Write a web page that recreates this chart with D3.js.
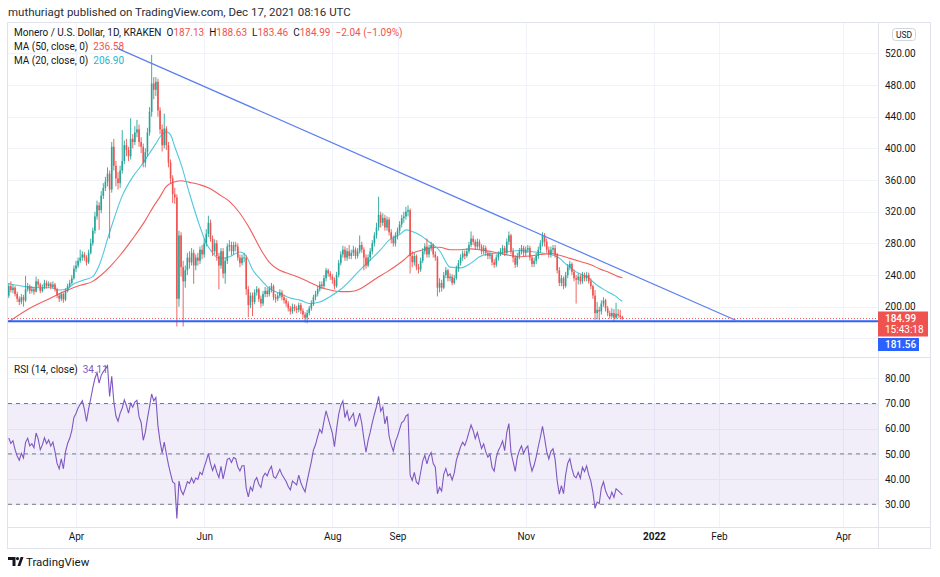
<!DOCTYPE html>
<html>
<head>
<meta charset="utf-8">
<script src="https://cdn.jsdelivr.net/npm/d3@7"></script>
<style>
  body { margin: 0; background: #fff; }
  text { font-family: Roboto, "Open Sans", sans-serif; }
</style>
</head>
<body>
<svg id="chart" width="940" height="577"></svg>
<script>
// ---- data ----
const startDay = "2021-02-28";   // first daily candle
const firstOpen = 214;
const close = [
  226,221,224,216,210,206,212,208,222,226,
  220,222,219,232,228,220,224,230,226,229,
  225,228,222,214,210,216,209,220,226,230,
  236,248,252,258,262,266,262,256,268,280,
  296,314,328,322,340,350,358,368,348,402,
  378,362,356,372,384,404,398,390,412,408,
  420,424,408,402,382,395,420,446,482,474,
  484,448,424,404,425,404,382,362,342,338,
  210,290,250,232,246,262,256,268,252,262,
  258,272,266,280,292,306,286,270,280,264,
  252,270,242,258,276,278,270,278,276,262,
  255,262,262,222,202,214,206,218,222,210,
  204,216,220,216,222,226,212,210,214,218,
  212,208,204,198,194,200,198,196,202,195,
  190,186,192,198,204,212,216,222,228,226,
  236,246,242,238,234,226,240,255,266,272,
  262,270,264,268,272,264,270,278,272,262,
  252,262,270,280,290,300,316,306,312,300,
  310,294,286,280,290,296,304,312,314,320,
  322,264,256,264,250,247,258,270,276,266,
  274,278,266,262,224,230,224,240,246,236,
  238,230,236,248,255,262,267,264,270,278,
  286,282,276,282,276,270,274,268,264,266,
  256,253,262,267,270,274,268,282,290,270,
  262,253,264,270,274,268,272,274,262,254,
  258,264,272,280,290,282,272,266,272,274,
  266,246,230,236,226,240,250,254,244,236,
  234,238,232,240,236,240,232,226,214,192,
  196,194,204,208,198,192,188,192,186,191,
  189,187.13,184.99
];
const high = [
  230,232,228,226,219,213,216,215,239,230,
  228,226,225,238,235,230,228,234,233,232,
  231,232,230,224,217,219,218,223,229,234,
  240,252,258,262,272,270,269,265,272,286,
  300,320,334,332,346,356,364,376,372,408,
  412,384,370,378,423,410,412,402,438,418,
  428,436,430,414,406,400,426,452,518,490,
  490,488,452,430,444,428,408,386,366,350,
  342,296,294,258,252,268,270,274,272,266,
  268,276,278,286,298,315,310,290,285,284,
  268,274,274,262,280,284,282,282,282,280,
  266,266,268,265,226,218,218,222,226,224,
  214,220,225,224,226,230,228,216,218,222,
  221,215,211,207,201,204,203,201,205,205,
  198,193,196,201,208,215,220,226,232,232,
  240,249,248,245,241,237,244,259,270,277,
  276,274,278,272,277,275,274,290,282,275,
  266,266,274,284,294,306,339,320,318,316,
  314,313,298,290,294,300,308,316,320,326,
  328,324,270,268,266,254,262,274,280,286,
  278,282,280,270,264,236,234,244,250,248,
  242,241,240,252,259,266,271,271,274,282,
  295,290,285,286,285,279,278,277,271,270,
  268,260,266,270,274,278,277,286,295,292,
  274,265,268,274,278,277,276,278,277,265,
  262,268,276,284,294,293,286,276,276,278,
  278,268,250,240,238,244,254,258,256,247,
  240,242,241,244,243,244,243,236,228,221,
  206,200,208,212,210,201,195,198,197,205,
  197,196,188.63
];
const low = [
  211,218,217,213,206,202,203,200,206,219,
  216,217,215,218,224,217,218,222,223,224,
  222,223,219,211,206,207,205,207,218,224,
  228,234,244,249,255,258,258,252,254,266,
  277,292,310,297,318,336,346,352,286,344,
  372,352,348,350,368,380,390,384,386,400,
  404,414,402,394,376,376,390,416,440,462,
  466,440,418,396,400,398,376,356,331,330,
  175,200,238,175,224,240,248,252,229,246,
  252,254,260,262,276,288,282,264,266,258,
  222,248,236,229,254,270,265,266,270,258,
  250,252,256,215,187,198,188,203,214,206,
  199,201,212,212,213,218,208,205,207,211,
  208,204,200,194,190,191,194,192,193,191,
  186,180,179,189,195,201,208,213,219,222,
  223,232,238,234,229,222,224,237,252,262,
  258,258,260,260,264,260,261,267,268,246,
  248,250,258,266,276,286,296,300,302,296,
  296,290,280,276,276,285,292,300,306,310,
  314,242,250,252,246,242,244,255,266,262,
  262,270,262,258,213,218,219,222,236,232,
  232,227,228,234,244,252,258,260,262,267,
  275,278,272,273,272,266,266,264,260,260,
  252,249,250,258,264,266,264,265,278,266,
  256,249,250,260,266,264,264,268,258,250,
  250,254,260,268,276,276,268,262,262,268,
  262,242,226,226,222,224,236,246,240,232,
  204,228,228,229,232,232,229,222,210,183,
  184,183,190,200,194,188,185,186,181,184,
  186,184,183.46
];
// moving averages as drawn: [day index, value]
const ma50 = [[0,181],[10,198],[20,211],[28,221],[34,227],[40,232],[44,240],[48,250],[53,265],[59,286],
  [65,309],[69,327],[72,339],[75,352],[78,357],[82,359],[86,357],[91,354],[96,349],[100,342],
  [105,333],[110,318],[115,297],[120,272],[124,256],[129,246],[134,241],[139,236],[143,231],[148,225],
  [153,221],[158,219],[162,219],[166,221],[170,227],[175,236],[180,244],[185,253],[188,259],[191,266],
  [196,271],[200,274],[205,275],[210,272],[215,272],[220,273],[224,272],[229,270],[234,267],[238,265],
  [243,263],[248,264],[253,266],[258,267],[262,265],[267,261],[272,257],[277,253],[281,248],[286,243],
  [290,238],[292,236.58]];
const ma20 = [[0,229],[4,227],[9,225],[13,224],[20,224],[24,221],[28,223],[31,229],[36,234],[40,238],
  [43,252],[48,294],[54,340],[59,364],[63,378],[67,394],[70,406],[73,418],[75,421],[77,417],
  [79,402],[82,380],[86,343],[91,301],[94,280],[97,268],[100,261],[105,263],[110,269],[113,264],
  [116,247],[120,234],[124,223],[129,217],[134,211],[139,208],[143,204],[148,206],[153,213],[158,222],
  [162,232],[167,246],[172,259],[177,272],[181,284],[186,291],[189,297],[192,295],[196,290],[200,282],
  [205,271],[210,250],[215,249],[220,255],[224,263],[229,267],[234,268],[239,270],[243,271],[248,270],
  [253,268],[258,266],[261,263],[266,252],[270,244],[275,238],[280,227],[285,219],[289,213],[291,208.5],
  [292,206.9]];
const rsiSeed = [5.0, 4.6];          // avg gain / avg loss before the first bar
const supportLevel = 181.56;
const trendLine = [[52, 526], [347, 181.56]];
const priceGrid = [160,200,240,280,320,360,400,440,480,520];
const priceTicks = [200,240,280,320,360,400,440,480,520];
const rsiTicks = [30,40,50,60,70,80];
const rsiBands = [70,50,30];
const timeTicks = [["2021-04-01","Apr"],["2021-06-01","Jun"],["2021-08-01","Aug"],["2021-09-01","Sep"],
  ["2021-11-01","Nov"],["2022-01-01","2022"],["2022-02-01","Feb"],["2022-04-01","Apr"]];

// ---- layout ----
const svg = d3.select("#chart");
const left = 8, plotRight = 878, axisRight = 931;
const mainTop = 22, mainBottom = 357, rsiBottom = 527, timeBottom = 548;
const up = "#26a69a", down = "#ef5350", ink = "#131722", gridC = "#f0f3fa", border = "#e0e3eb";

const parse = d3.utcParse("%Y-%m-%d");
const day0 = parse(startDay);
const dayDate = i => d3.utcDay.offset(day0, Math.floor(i)).getTime() + (i % 1) * 864e5;

const x = d3.scaleUtc().domain([parse("2021-04-01"), parse("2022-04-01")]).range([76, 843]);
const y = d3.scaleLinear().domain([200, 480]).range([306.7, 85]);
const yr = d3.scaleLinear().domain([30, 80]).range([504.3, 378.3]);

// header
svg.append("text").attr("x", 8).attr("y", 16).attr("font-size", 11.5).attr("fill", "#2a2e39")
  .text("muthuriagt published on TradingView.com, Dec 17, 2021 08:16 UTC");

// frames
const frame = svg.append("g").attr("fill", "none").attr("stroke", border);
frame.append("rect").attr("x", left - 0.5).attr("y", mainTop + 0.5).attr("width", axisRight - left).attr("height", timeBottom - mainTop);
frame.append("line").attr("x1", plotRight + 0.5).attr("x2", plotRight + 0.5).attr("y1", mainTop).attr("y2", timeBottom);
frame.append("line").attr("x1", left).attr("x2", axisRight).attr("y1", mainBottom + 0.5).attr("y2", mainBottom + 0.5);
frame.append("line").attr("x1", left).attr("x2", axisRight).attr("y1", rsiBottom + 0.5).attr("y2", rsiBottom + 0.5);

svg.append("clipPath").attr("id", "clipMain").append("rect")
  .attr("x", left).attr("y", mainTop + 1).attr("width", plotRight - left).attr("height", mainBottom - mainTop - 1);
svg.append("clipPath").attr("id", "clipRsi").append("rect")
  .attr("x", left).attr("y", mainBottom + 1).attr("width", plotRight - left).attr("height", rsiBottom - mainBottom - 1);

// grids
const grid = svg.append("g").attr("stroke", gridC).attr("stroke-width", 1);
timeTicks.forEach(([d]) => {
  const gx = Math.round(x(parse(d))) + 0.5;
  grid.append("line").attr("x1", gx).attr("x2", gx).attr("y1", mainTop + 1).attr("y2", mainBottom);
  grid.append("line").attr("x1", gx).attr("x2", gx).attr("y1", mainBottom + 1).attr("y2", rsiBottom);
});
priceGrid.forEach(p => {
  const gy = Math.round(y(p)) + 0.5;
  grid.append("line").attr("x1", left).attr("x2", plotRight).attr("y1", gy).attr("y2", gy);
});
rsiTicks.forEach(r => {
  const gy = Math.round(yr(r)) + 0.5;
  grid.append("line").attr("x1", left).attr("x2", plotRight).attr("y1", gy).attr("y2", gy);
});

// ---- main pane ----
const main = svg.append("g").attr("clip-path", "url(#clipMain)");

// last price dotted line
main.append("line").attr("x1", left).attr("x2", plotRight)
  .attr("y1", y(close[close.length - 1])).attr("y2", y(close[close.length - 1]))
  .attr("stroke", down).attr("stroke-dasharray", "1,2").attr("stroke-width", 1);

const line = d3.line().x(d => x(dayDate(d[0]))).y(d => y(d[1])).curve(d3.curveMonotoneX);
main.append("path").datum(ma50).attr("d", line).attr("fill", "none").attr("stroke", "#f0605d").attr("stroke-width", 1.1);
main.append("path").datum(ma20).attr("d", line).attr("fill", "none").attr("stroke", "#4fc9dd").attr("stroke-width", 1.1);

// candles
const bars = close.map((c, i) => ({ i, o: i ? close[i - 1] : firstOpen, h: high[i], l: low[i], c }));
const cg = main.append("g");
cg.selectAll(".wick").data(bars).enter().append("line")
  .attr("x1", d => x(dayDate(d.i))).attr("x2", d => x(dayDate(d.i)))
  .attr("y1", d => y(d.h)).attr("y2", d => y(d.l))
  .attr("stroke", d => d.c >= d.o ? up : down).attr("stroke-width", 0.9);
cg.selectAll(".body").data(bars).enter().append("rect")
  .attr("x", d => x(dayDate(d.i)) - 0.8).attr("width", 1.6)
  .attr("y", d => y(Math.max(d.o, d.c)))
  .attr("height", d => Math.max(0.8, Math.abs(y(d.o) - y(d.c))))
  .attr("fill", d => d.c >= d.o ? up : down);

// support and trend lines
main.append("line").attr("x1", left).attr("x2", plotRight)
  .attr("y1", y(supportLevel)).attr("y2", y(supportLevel))
  .attr("stroke", "#2962ff").attr("stroke-width", 2);
main.append("line")
  .attr("x1", x(dayDate(trendLine[0][0]))).attr("y1", y(trendLine[0][1]))
  .attr("x2", x(dayDate(trendLine[1][0]))).attr("y2", y(trendLine[1][1]))
  .attr("stroke", "#5b7ff0").attr("stroke-width", 1.2);

// ---- RSI pane ----
const rsi = [];
let ag = rsiSeed[0], al = rsiSeed[1], prev = firstOpen;
close.forEach(c => {
  const ch = c - prev; prev = c;
  ag = (ag * 13 + Math.max(ch, 0)) / 14;
  al = (al * 13 + Math.max(-ch, 0)) / 14;
  rsi.push(100 - 100 / (1 + ag / al));
});
const rp = svg.append("g").attr("clip-path", "url(#clipRsi)");
rp.append("rect").attr("x", left).attr("width", plotRight - left)
  .attr("y", yr(70)).attr("height", yr(30) - yr(70)).attr("fill", "#7e57c2").attr("fill-opacity", 0.1);
rsiBands.forEach(b => {
  rp.append("line").attr("x1", left).attr("x2", plotRight).attr("y1", yr(b)).attr("y2", yr(b))
    .attr("stroke", "#787b86").attr("stroke-dasharray", "4,4").attr("stroke-width", 1);
});
rp.append("path").datum(rsi)
  .attr("d", d3.line().x((d, i) => x(dayDate(i))).y(d => yr(d)))
  .attr("fill", "none").attr("stroke", "#7e57c2").attr("stroke-width", 1.1);

// ---- axes ----
const pAxis = svg.append("g").attr("transform", `translate(${plotRight},0)`)
  .call(d3.axisRight(y).tickValues(priceTicks).tickFormat(d3.format(".2f")).tickSize(0).tickPadding(7));
const rAxis = svg.append("g").attr("transform", `translate(${plotRight},0)`)
  .call(d3.axisRight(yr).tickValues([80,70,60,50,40,30]).tickFormat(d3.format(".2f")).tickSize(0).tickPadding(7));
const tLabel = new Map(timeTicks.map(([d, t]) => [parse(d).getTime(), t]));
const tAxis = svg.append("g").attr("transform", `translate(0,${rsiBottom})`)
  .call(d3.axisBottom(x).tickValues(timeTicks.map(d => parse(d[0]))).tickFormat(d => tLabel.get(d.getTime())).tickSize(0).tickPadding(6));
[pAxis, rAxis, tAxis].forEach(a => {
  a.select(".domain").remove();
  a.selectAll("text").attr("fill", ink).attr("font-size", 10).attr("font-family", "Roboto, sans-serif");
});
tAxis.selectAll("text").filter(d => tLabel.get(d.getTime()) === "2022").attr("font-weight", "bold");

// USD badge
svg.append("rect").attr("x", 892.5).attr("y", 28.5).attr("width", 23).attr("height", 12).attr("rx", 3)
  .attr("fill", "#fff").attr("stroke", "#d1d4dc");
svg.append("text").attr("x", 904).attr("y", 37.5).attr("text-anchor", "middle").attr("font-size", 8.5).attr("fill", ink).text("USD");

// price labels
svg.append("rect").attr("x", 878).attr("y", 311.5).attr("width", 50).attr("height", 25).attr("fill", down);
svg.append("text").attr("x", 885).attr("y", 322).attr("font-size", 10).attr("fill", "#fff").attr("font-weight", 500).text("184.99");
svg.append("text").attr("x", 885).attr("y", 333).attr("font-size", 10).attr("fill", "#fff").text("15:43:18");
svg.append("rect").attr("x", 878).attr("y", 338).attr("width", 41).attr("height", 13).attr("fill", "#2962ff");
svg.append("text").attr("x", 885).attr("y", 348).attr("font-size", 10).attr("fill", "#fff").attr("font-weight", 500).text("181.56");

// ---- legends ----
function legend(yPos, parts) {
  const t = svg.append("text").attr("x", 14).attr("y", yPos).attr("font-size", 10).attr("fill", ink);
  parts.forEach(([s, c, dx]) => t.append("tspan").attr("fill", c).attr("dx", dx || 0).text(s));
}
legend(36, [["Monero / U.S. Dollar, 1D, KRAKEN", ink], ["O", ink, 5], ["187.13", down], ["H", ink, 5], ["188.63", down],
  ["L", ink, 5], ["183.46", down], ["C", ink, 5], ["184.99", down], ["\u22122.04 (\u22121.09%)", down, 5]]);
legend(50, [["MA (50, close, 0)", ink], ["236.58", down, 5]]);
legend(64, [["MA (20, close, 0)", ink], ["206.90", "#26b5d0", 5]]);
legend(373, [["RSI (14, close)", ink], ["34.11", "#7e57c2", 5]]);

// TradingView mark
const logo = svg.append("g").attr("fill", ink);
logo.append("path").attr("d", "M8,557 h7.5 v9 h-3 v-6 h-4.5 z");
logo.append("circle").attr("cx", 17.5).attr("cy", 558.6).attr("r", 1.6);
logo.append("path").attr("d", "M17.5,566 l3.2,-9 h2.8 l-3.2,9 z");
svg.append("text").attr("x", 26).attr("y", 566).attr("font-size", 11.5).attr("fill", ink).text("TradingView");
</script>
</body>
</html>
